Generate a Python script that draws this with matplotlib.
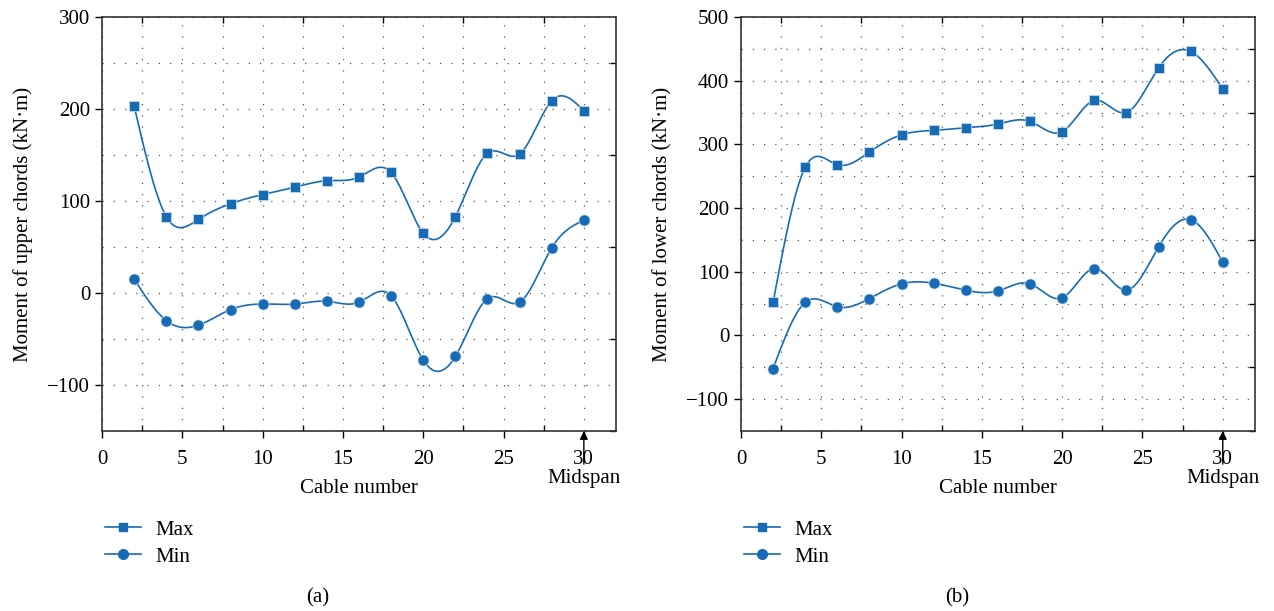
import numpy as np
import matplotlib
matplotlib.use('Agg')
import matplotlib.pyplot as plt
from matplotlib.ticker import MultipleLocator
from matplotlib.lines import Line2D

cable = [2, 4, 6, 8, 10, 12, 14, 16, 18, 20, 22, 24, 26, 28, 30]
upper_max = [203, 83, 80, 97, 107, 115, 122, 126, 131, 65, 83, 152, 151, 209, 198]
upper_min = [15, -30, -35, -18, -12, -12, -9, -10, -3, -73, -69, -6, -10, 49, 79]
lower_max = [52, 264, 268, 288, 315, 322, 326, 332, 336, 320, 369, 350, 420, 446, 387]
lower_min = [-52, 52, 45, 58, 81, 82, 71, 70, 81, 59, 105, 71, 139, 182, 115]

blue = '#176bb5'
plt.rcParams['font.family'] = ['Liberation Serif', 'DejaVu Serif']
plt.rcParams['font.size'] = 15


def spline(x, y, n=400):
    # natural cubic spline through the points
    x = np.asarray(x, float)
    y = np.asarray(y, float)
    k = len(x)
    h = np.diff(x)
    A = np.zeros((k, k))
    b = np.zeros(k)
    A[0, 0] = A[-1, -1] = 1
    for i in range(1, k - 1):
        A[i, i - 1] = h[i - 1]
        A[i, i] = 2 * (h[i - 1] + h[i])
        A[i, i + 1] = h[i]
        b[i] = 6 * ((y[i + 1] - y[i]) / h[i] - (y[i] - y[i - 1]) / h[i - 1])
    M = np.linalg.solve(A, b)
    xs = np.linspace(x[0], x[-1], n)
    idx = np.clip(np.searchsorted(x, xs) - 1, 0, k - 2)
    x0, x1 = x[idx], x[idx + 1]
    hh = x1 - x0
    t0, t1 = x1 - xs, xs - x0
    ys = (M[idx] * t0**3 + M[idx + 1] * t1**3) / (6 * hh) \
        + (y[idx] / hh - M[idx] * hh / 6) * t0 \
        + (y[idx + 1] / hh - M[idx + 1] * hh / 6) * t1
    return xs, ys


def panel(ax, ymax, ymin, ylim, ylabel, caption):
    for vals, mk, ms in [(ymax, 's', 7), (ymin, 'o', 8)]:
        xs, ys = spline(cable, vals)
        ax.plot(xs, ys, color=blue, lw=1.2)
        ax.plot(cable, vals, mk, color=blue, ms=ms, mec='#cfe0f0', mew=0.5,
                linestyle='none', clip_on=False, zorder=3)
    ax.set_xlim(0, 32)
    ax.set_ylim(*ylim)
    ax.xaxis.set_major_locator(MultipleLocator(5))
    ax.xaxis.set_minor_locator(MultipleLocator(2.5))
    ax.yaxis.set_major_locator(MultipleLocator(100))
    ax.yaxis.set_minor_locator(MultipleLocator(50))
    ax.grid(which='both', color='#555555', linestyle=(0, (1, 8)), lw=0.9)
    ax.tick_params(which='major', direction='out', length=5, width=1, top=False, right=False)
    ax.tick_params(axis='x', which='major', pad=9)
    ax.tick_params(which='minor', direction='in', length=4, width=1, top=True, right=True,
                   bottom=True, left=False)
    for s in ax.spines.values():
        s.set_linewidth(1.2)
        s.set_color('#333333')
    ax.set_xlabel('Cable number', labelpad=7)
    ax.set_ylabel(ylabel, labelpad=10)
    ax.annotate('', xy=(30, 0), xycoords=('data', 'axes fraction'),
                xytext=(30, -0.08), textcoords=('data', 'axes fraction'),
                arrowprops=dict(arrowstyle='-|>', color='black', lw=1,
                                mutation_scale=12, shrinkA=0, shrinkB=0),
                annotation_clip=False)
    ax.text(30, -0.115, 'Midspan', transform=ax.get_xaxis_transform(),
            ha='center', va='center')
    handles = [Line2D([], [], color=blue, marker='s', ms=6, lw=1.2),
               Line2D([], [], color=blue, marker='o', ms=7, lw=1.2)]
    ax.legend(handles, ['Max', 'Min'], loc='upper left', bbox_to_anchor=(-0.01, -0.195),
              frameon=False, handlelength=1.7, handletextpad=0.7,
              labelspacing=0.35, borderaxespad=0)
    ax.text(0.42, -0.404, caption, transform=ax.transAxes, ha='center', va='center')


fig = plt.figure(figsize=(12.74, 6.11), dpi=100)
ax1 = fig.add_axes([0.0801, 0.2946, 0.4034, 0.6776])
ax2 = fig.add_axes([0.5816, 0.2946, 0.4034, 0.6776])
panel(ax1, upper_max, upper_min, (-150, 300), 'Moment of upper chords (kN·m)', '(a)')
panel(ax2, lower_max, lower_min, (-150, 500), 'Moment of lower chords (kN·m)', '(b)')
fig.savefig('out.png', dpi=100)
